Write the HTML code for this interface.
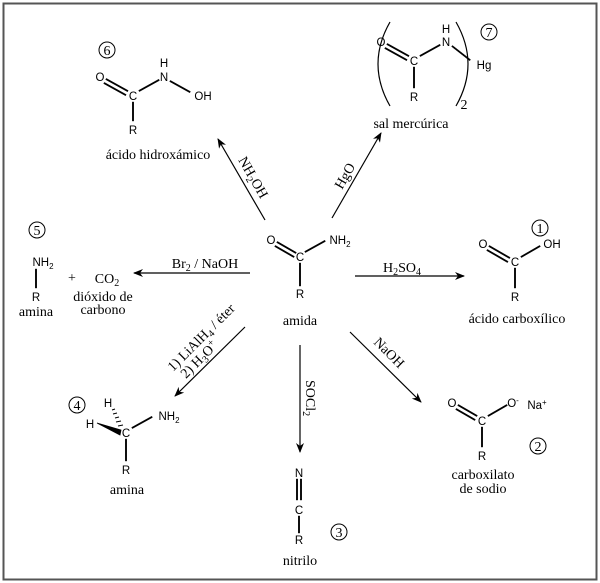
<!DOCTYPE html>
<html><head><meta charset="utf-8"><style>
html,body{margin:0;padding:0;background:#fff}
svg{display:block}
.s{font-family:"Liberation Sans",sans-serif;font-size:11.5px;fill:#000}
.t{font-family:"Liberation Serif",serif;font-size:14px;fill:#000}
.n{font-family:"Liberation Serif",serif;font-size:14px;fill:#000}
</style></head><body>
<svg width="600" height="583" viewBox="0 0 600 583" xmlns="http://www.w3.org/2000/svg">
<defs><marker id="a" markerWidth="10" markerHeight="8" refX="9" refY="4" orient="auto" markerUnits="userSpaceOnUse"><path d="M0,0 L10,4 L0,8 L3,4 Z" fill="#000"/></marker></defs>
<rect x="3.5" y="3.5" width="593" height="576" fill="none" stroke="#555" stroke-width="2"/>
<g stroke="#000" stroke-width="1.2" fill="none">
<path d="M265,220 L218,139" marker-end="url(#a)"/>
<path d="M332,218 L381,133" marker-end="url(#a)"/>
<path d="M250,273 L134,273" marker-end="url(#a)"/>
<path d="M355,276 L464,276" marker-end="url(#a)"/>
<path d="M245,327 L175,396" marker-end="url(#a)"/>
<path d="M300,345 L300,452" marker-end="url(#a)"/>
<path d="M350,332 L421,402" marker-end="url(#a)"/>
<path d="M390,22 Q366,64 390,106"/>
<path d="M456,22 Q480,64 456,106"/>
<path stroke-width="1" d="M112,410 L115,409 M113,414 L117,413 M115,418 L119,417 M116,422 L121,421 M118,426 L123,425"/>
<g stroke-width="1">
<circle cx="107" cy="50" r="8"/>
<circle cx="489" cy="32" r="8"/>
<circle cx="540" cy="228" r="8"/>
<circle cx="37" cy="230" r="8"/>
<circle cx="77" cy="405" r="8"/>
<circle cx="339" cy="532" r="8"/>
<circle cx="538" cy="446" r="8"/>
</g>
</g>
<g fill="#000" stroke="#000" stroke-width="0.4">
<rect x="0" y="-0.7" width="22" height="1.4" transform="translate(277,242) rotate(30)"/>
<rect x="0" y="-0.7" width="22" height="1.4" transform="translate(275,246) rotate(30)"/>
<rect x="0" y="-0.7" width="23" height="1.4" transform="translate(305,252) rotate(-29)"/>
<rect x="299.3" y="263" width="1.4" height="23"/>

<rect x="0" y="-0.7" width="25" height="1.4" transform="translate(106,79) rotate(29)"/>
<rect x="0" y="-0.7" width="25" height="1.4" transform="translate(104,83) rotate(29)"/>
<rect x="0" y="-0.7" width="23" height="1.4" transform="translate(139,91) rotate(-29)"/>
<rect x="0" y="-0.7" width="23" height="1.4" transform="translate(170,81) rotate(29)"/>
<rect x="132.3" y="102" width="1.4" height="19"/>

<rect x="0" y="-0.7" width="25" height="1.4" transform="translate(387,44) rotate(29)"/>
<rect x="0" y="-0.7" width="25" height="1.4" transform="translate(385,48) rotate(29)"/>
<rect x="0" y="-0.7" width="23" height="1.4" transform="translate(420,56) rotate(-29)"/>
<rect x="0" y="-0.7" width="23" height="1.4" transform="translate(452,46) rotate(38)"/>
<rect x="413.3" y="67" width="1.4" height="21"/>

<rect x="0" y="-0.7" width="24" height="1.4" transform="translate(489,246) rotate(30)"/>
<rect x="0" y="-0.7" width="24" height="1.4" transform="translate(487,250) rotate(30)"/>
<rect x="0" y="-0.7" width="22" height="1.4" transform="translate(521,257) rotate(-30)"/>
<rect x="514.3" y="268" width="1.4" height="20"/>

<rect x="35.3" y="269" width="1.4" height="19"/>

<rect x="0" y="-0.7" width="23" height="1.4" transform="translate(132,428) rotate(-29)"/>
<rect x="125.3" y="439" width="1.4" height="22"/>

<rect x="296.3" y="479" width="1.4" height="21"/>
<rect x="300.3" y="479" width="1.4" height="21"/>
<rect x="298.3" y="516" width="1.4" height="17"/>

<rect x="0" y="-0.7" width="22" height="1.4" transform="translate(458,405) rotate(30)"/>
<rect x="0" y="-0.7" width="22" height="1.4" transform="translate(456,409) rotate(30)"/>
<rect x="0" y="-0.7" width="22" height="1.4" transform="translate(488,416) rotate(-30)"/>
<rect x="481.3" y="427" width="1.4" height="20"/>
</g>
<path d="M97,423 L121,430 L120,435 Z" fill="#000" stroke="#000" stroke-width="0.8"/>
<g text-anchor="middle">
<text class="s" x="271" y="244">O</text>
<text class="s" x="300" y="261">C</text>
<text class="s" x="340" y="244">NH<tspan font-size="8" dy="3">2</tspan></text>
<text class="s" x="300" y="298">R</text>
<text class="t" x="300" y="325">amida</text>
<text class="n" text-anchor="start" transform="translate(238,160) rotate(60)">NH<tspan font-size="10" dy="3">2</tspan><tspan dy="-3">OH</tspan></text>
<text class="n" text-anchor="start" transform="translate(342,190) rotate(-60)">HgO</text>
<text class="n" x="205" y="268">Br<tspan font-size="10" dy="3">2</tspan><tspan dy="-3"> / NaOH</tspan></text>
<text class="n" x="402" y="272">H<tspan font-size="10" dy="3">2</tspan><tspan dy="-3">SO</tspan><tspan font-size="10" dy="3">4</tspan></text>
<text class="n" text-anchor="start" transform="translate(173,372) rotate(-45)">1) LiAlH<tspan font-size="10" dy="3">4</tspan><tspan dy="-3"> / éter</tspan></text>
<text class="n" text-anchor="start" transform="translate(186,379) rotate(-45)">2) H<tspan font-size="10" dy="3">3</tspan><tspan dy="-3">O</tspan><tspan font-size="10" dy="-5">+</tspan></text>
<text class="n" text-anchor="start" transform="translate(306,380) rotate(90)">SOCl<tspan font-size="10" dy="3">2</tspan></text>
<text class="n" text-anchor="start" transform="translate(373,343) rotate(45)">NaOH</text>
<text class="n" x="107" y="55">6</text>
<text class="s" x="100" y="81">O</text>
<text class="s" x="133" y="100">C</text>
<text class="s" x="164" y="81">N</text><text class="s" x="164" y="67">H</text>
<text class="s" x="203" y="100">OH</text>
<text class="s" x="133" y="134">R</text>
<text class="t" x="158" y="159">ácido hidroxámico</text>
<text class="n" x="464" y="109" font-size="10">2</text>
<text class="n" x="489" y="37">7</text>
<text class="s" x="381" y="46">O</text>
<text class="s" x="414" y="65">C</text>
<text class="s" x="446" y="46">N</text><text class="s" x="446" y="33">H</text>
<text class="s" x="484" y="69">Hg</text>
<text class="s" x="414" y="101">R</text>
<text class="t" x="411" y="128">sal mercúrica</text>
<text class="n" x="540" y="233">1</text>
<text class="s" x="483" y="248">O</text>
<text class="s" x="515" y="266">C</text>
<text class="s" x="552" y="248">OH</text>
<text class="s" x="515" y="301">R</text>
<text class="t" x="517" y="323">ácido carboxílico</text>
<text class="n" x="37" y="235">5</text>
<text class="s" x="43" y="266">NH<tspan font-size="8" dy="3">2</tspan></text>
<text class="s" x="36" y="301">R</text>
<text class="t" x="36" y="316">amina</text>
<text class="n" x="72" y="282">+</text>
<text class="t" x="107" y="283">CO<tspan font-size="10" dy="3">2</tspan></text>
<text class="t" x="103" y="301">dióxido de</text>
<text class="t" x="103" y="314">carbono</text>
<text class="n" x="77" y="410">4</text>
<text class="s" x="108" y="407">H</text>
<text class="s" x="90" y="428">H</text>
<text class="s" x="126" y="437">C</text>
<text class="s" x="169" y="420">NH<tspan font-size="8" dy="3">2</tspan></text>
<text class="s" x="126" y="474">R</text>
<text class="t" x="127" y="494">amina</text>
<text class="s" x="299" y="477">N</text>
<text class="s" x="299" y="514">C</text>
<text class="s" x="299" y="544">R</text>
<text class="t" x="300" y="565">nitrilo</text>
<text class="n" x="339" y="537">3</text>
<text class="s" x="452" y="407">O</text>
<text class="s" x="482" y="425">C</text>
<text class="s" x="513" y="407">O<tspan font-size="8" dy="-4">-</tspan></text>
<text class="s" x="537" y="409">Na<tspan font-size="8" dy="-4">+</tspan></text>
<text class="s" x="482" y="460">R</text>
<text class="n" x="538" y="451">2</text>
<text class="t" x="483" y="479">carboxilato</text>
<text class="t" x="483" y="493">de sodio</text>
</g>
</svg>
</body></html>
